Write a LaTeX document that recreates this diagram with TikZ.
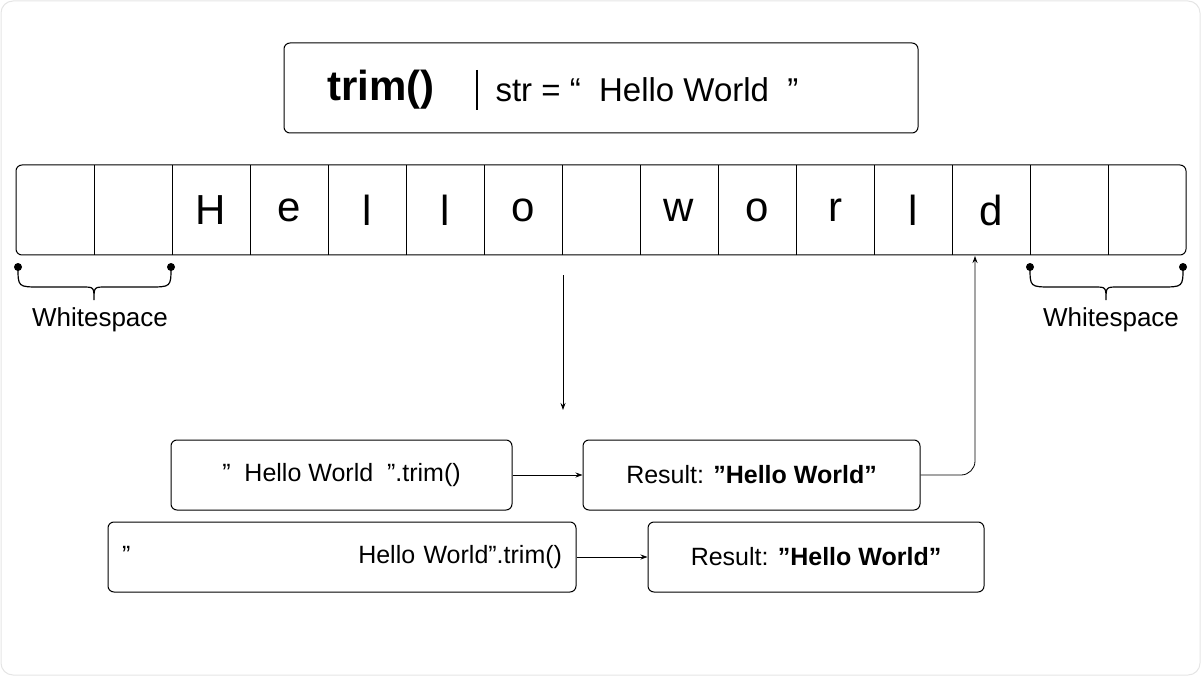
\documentclass[tikz,border=0pt]{standalone}
\usepackage{fontspec}
\setmainfont{Liberation Sans}
\usetikzlibrary{arrows.meta}
\begin{document}
\begin{tikzpicture}[x=1pt,y=-1pt,
  box/.style={draw,rounded corners=6pt,line width=1pt},
  lbl/.style={font=\fontsize{25}{28}\selectfont},
  ltr/.style={font=\fontsize{42}{46}\selectfont},
  ws/.style={font=\fontsize{26}{30}\selectfont},
  arr/.style={-{Stealth[length=7pt,width=5pt]},line width=0.8pt},
  dotc/.style={circle,fill,inner sep=0pt,minimum size=8pt}]
\useasboundingbox (0,0) rectangle (1201,676);
\draw[black!10,rounded corners=12pt,line width=1pt] (1,1) rectangle (1200,675);
% title
\draw[box] (284,43) rectangle (918,133);
\node[font=\fontsize{42}{46}\selectfont\bfseries] (tt) at (381,90) {trim()};
\draw[line width=1.5pt] (477,70) -- (477,110);
\node[font=\fontsize{33}{38}\selectfont,anchor=west] (st) at (492,90) {str = “\ \ Hello World\ \ ”};
% array
\draw[box] (16,165) rectangle (1186,255);
\foreach \i in {1,...,14} \draw[line width=1pt] (16+78*\i,165) -- (16+78*\i,255);
\foreach \i/\c in {2/H,3/e,4/l,5/l,6/o,8/w,9/o,10/r,11/l,12/d}
  \node[ltr] (c\i) at (55+78*\i,210) {\c};
% braces
\node[dotc] (d1) at (18,267) {};
\node[dotc] (d2) at (171,267) {};
\node[dotc] (d3) at (1030,267) {};
\node[dotc] (d4) at (1183,267) {};
\draw[line width=1.2pt] (d1.center) .. controls (18,287) .. (40,287) -- (82,287) .. controls (94,287) .. (94,300)
  .. controls (94,287) .. (106,287) -- (149,287) .. controls (171,287) .. (d2.center);
\draw[line width=1.2pt] (d3.center) .. controls (1030,287) .. (1052,287) -- (1094,287) .. controls (1106,287) .. (1106,300)
  .. controls (1106,287) .. (1118,287) -- (1161,287) .. controls (1183,287) .. (d4.center);
\node[ws] (w1) at (100,320) {Whitespace};
\node[ws] (w2) at (1111,320) {Whitespace};
% down arrow
\coordinate (a0) at (563,275);
\coordinate (a1) at (563,410);
\draw[arr] (a0) -- (a1);
% boxes
\node[box,lbl,minimum width=341pt,minimum height=70pt] (b1) at (341.5,475) {"\ \ Hello World\ \ ".trim()};
\node[box,lbl,minimum width=337pt,minimum height=70pt] (r1) at (751.5,475) {Result: \textbf{"Hello World"}};
\node[box,lbl,minimum width=468pt,minimum height=70pt,text width=440pt] (b2) at (342,557) {"\hfill Hello World".trim()};
\node[box,lbl,minimum width=336pt,minimum height=70pt] (r2) at (816,557) {Result: \textbf{"Hello World"}};
\draw[arr] (b1) -- (r1);
\draw[arr] (b2) -- (r2);
\coordinate (top) at (975,256);
\draw[arr,rounded corners=14pt] (r1.east) -- (975,475) -- (top);
\end{tikzpicture}
\end{document}
